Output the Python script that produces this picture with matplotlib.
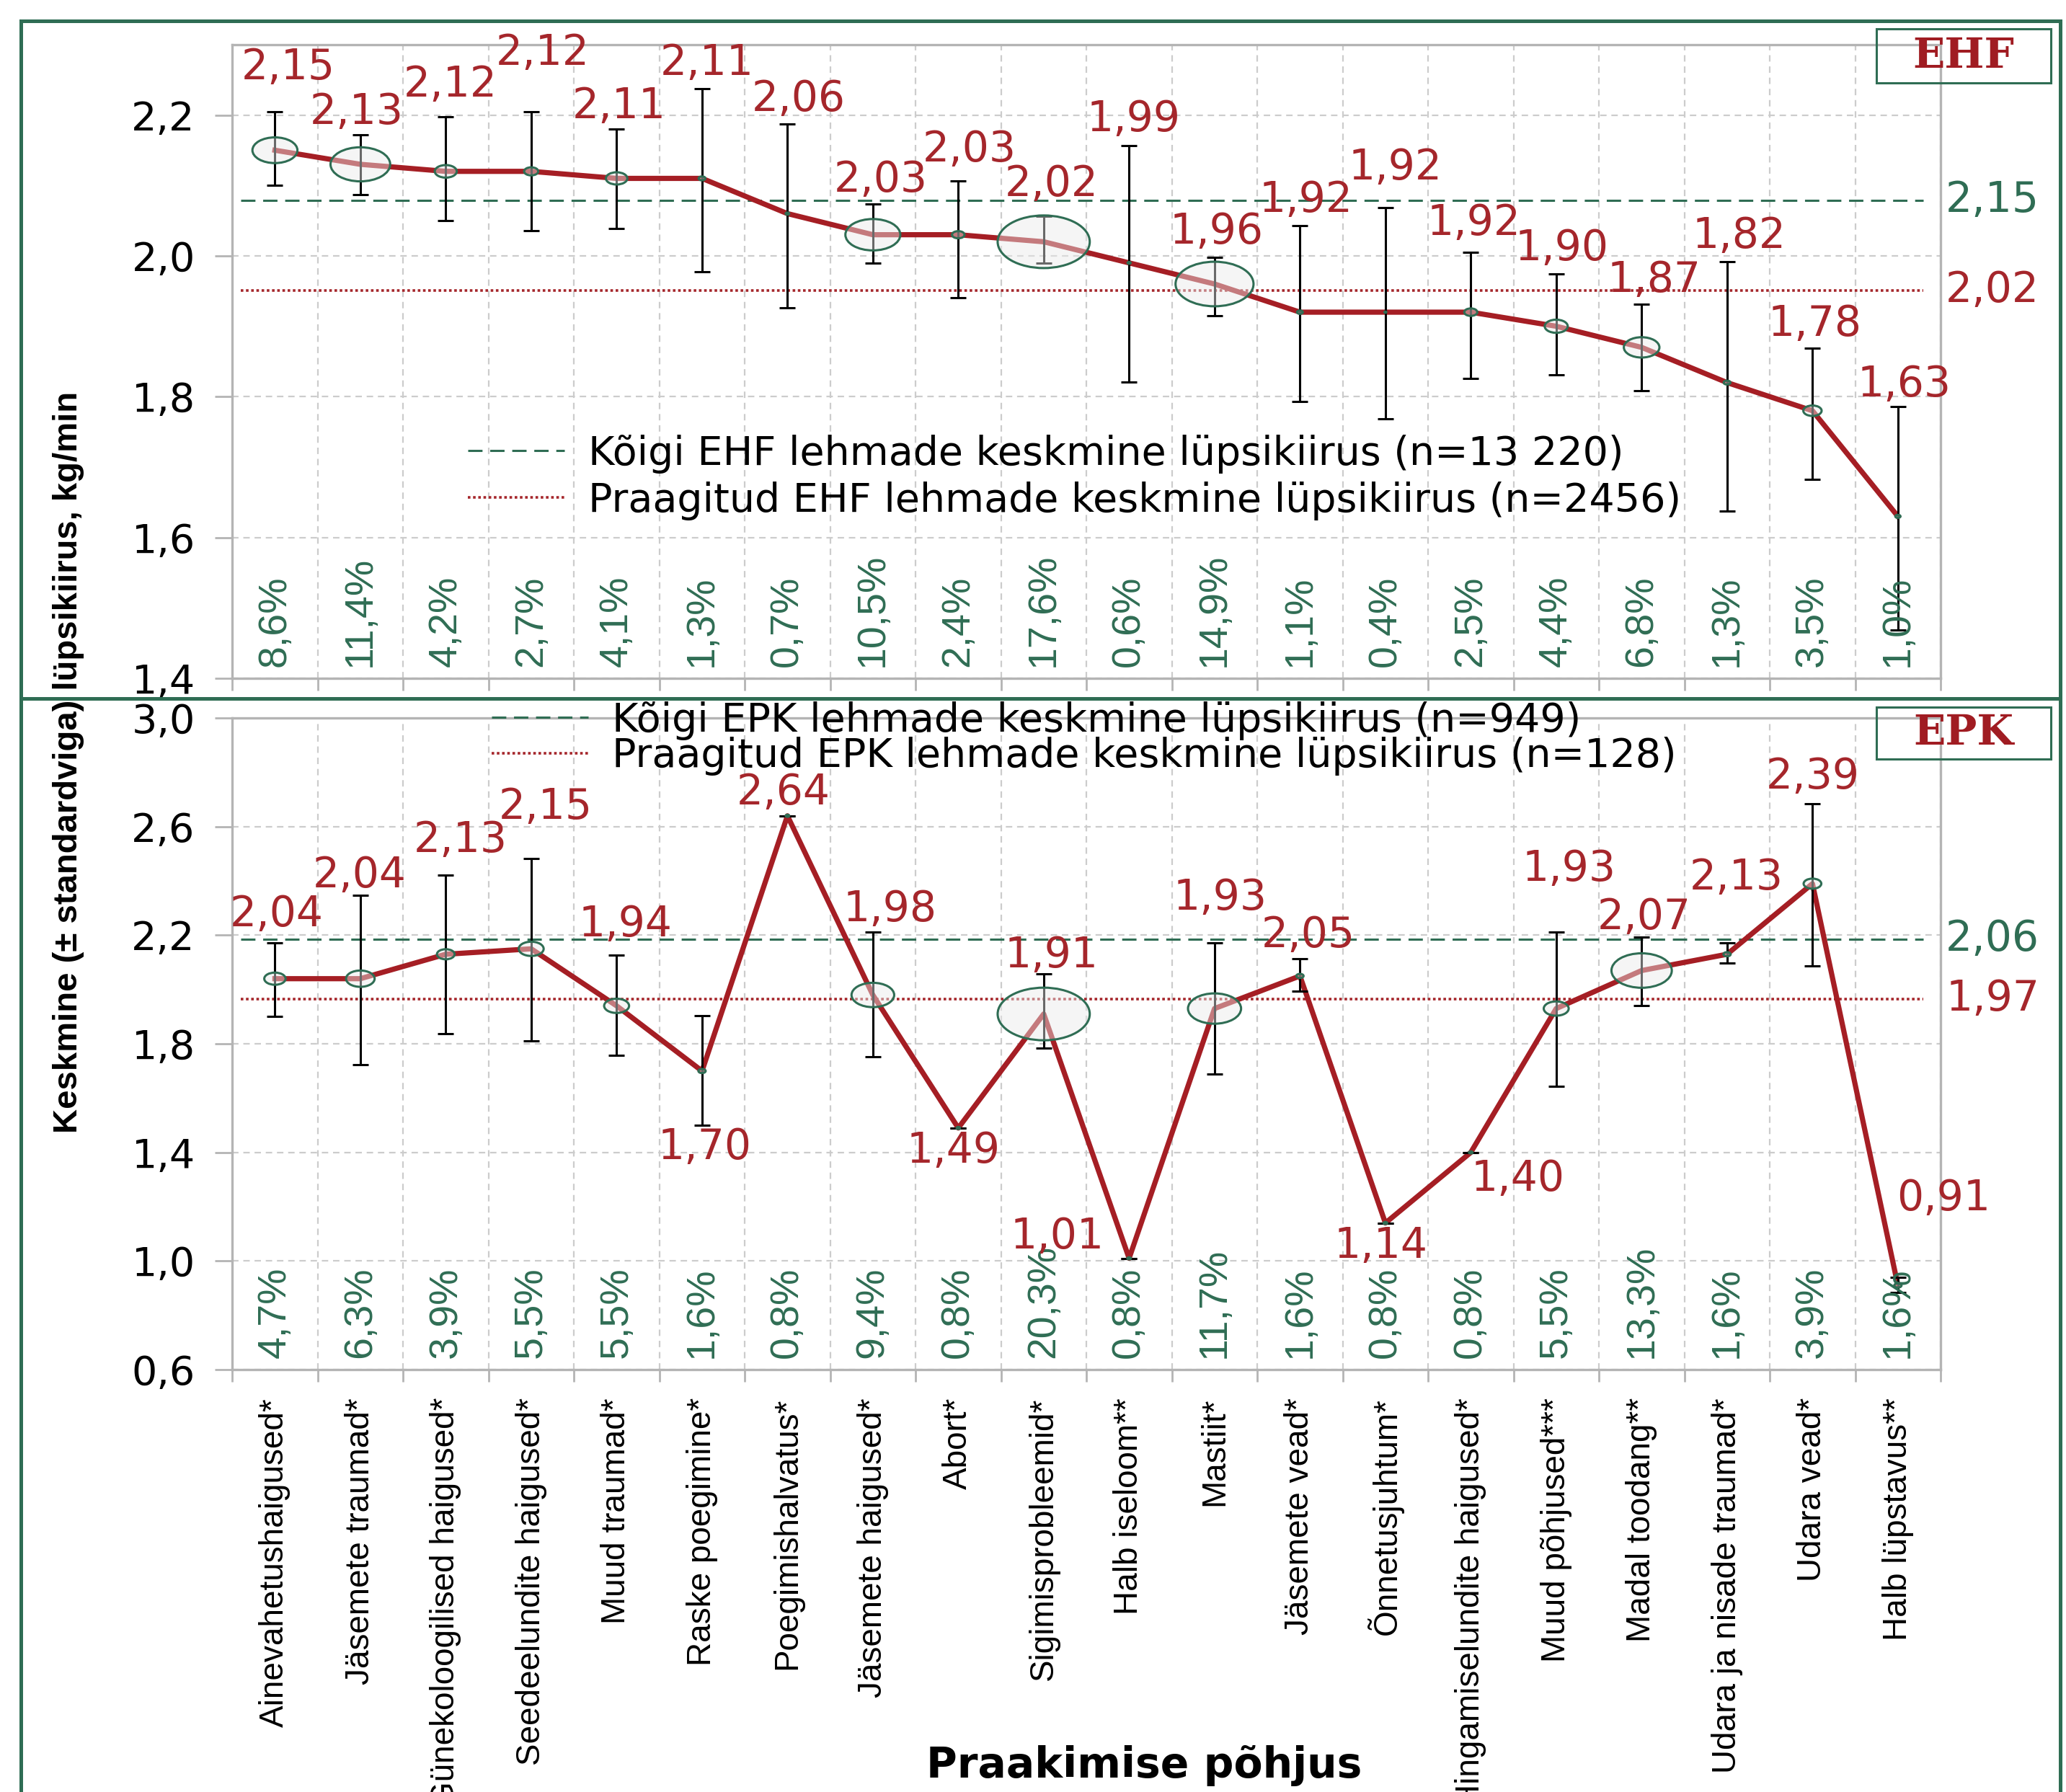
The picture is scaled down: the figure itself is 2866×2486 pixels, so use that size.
import numpy as np
import matplotlib
matplotlib.use("Agg")
import matplotlib.pyplot as plt
from matplotlib.path import Path
from matplotlib.transforms import Affine2D
from matplotlib.patches import Rectangle
from matplotlib.lines import Line2D
from matplotlib.ticker import FuncFormatter

# === DATA ===
categories = [
    "Ainevahetushaigused*", "Jäsemete traumad*", "Günekoloogilised haigused*",
    "Seedeelundite haigused*", "Muud traumad*", "Raske poegimine*",
    "Poegimishalvatus*", "Jäsemete haigused*", "Abort*", "Sigimisprobleemid*",
    "Halb iseloom**", "Mastiit*", "Jäsemete vead*", "Õnnetusjuhtum*",
    "Hingamiselundite haigused*", "Muud põhjused***", "Madal toodang**",
    "Udara ja nisade traumad*", "Udara vead*", "Halb lüpstavus**",
]

# EHF (top panel)
ehf_mean = [2.15, 2.13, 2.12, 2.12, 2.11, 2.11, 2.06, 2.03, 2.03, 2.02,
            1.99, 1.96, 1.92, 1.92, 1.92, 1.90, 1.87, 1.82, 1.78, 1.63]
ehf_lo = [2.100, 2.087, 2.050, 2.036, 2.039, 1.977, 1.926, 1.990, 1.941, 1.990,
          1.821, 1.915, 1.793, 1.769, 1.826, 1.831, 1.808, 1.637, 1.683, 1.469]
ehf_hi = [2.205, 2.172, 2.198, 2.205, 2.180, 2.237, 2.187, 2.074, 2.106, 2.056,
          2.157, 1.998, 2.043, 2.069, 2.005, 1.974, 1.931, 1.992, 1.869, 1.786]
ehf_pct = [8.6, 11.4, 4.2, 2.7, 4.1, 1.3, 0.7, 10.5, 2.4, 17.6,
           0.6, 14.9, 1.1, 0.4, 2.5, 4.4, 6.8, 1.3, 3.5, 1.0]
ehf_ref = [2.079, 1.951]
ehf_ref_text = ["2,15", "2,02"]
ehf_legend = ["Kõigi EHF lehmade keskmine lüpsikiirus (n=13 220)",
              "Praagitud EHF lehmade keskmine lüpsikiirus (n=2456)"]

# EPK (bottom panel)
epk_mean = [2.04, 2.04, 2.13, 2.15, 1.94, 1.70, 2.64, 1.98, 1.49, 1.91,
            1.01, 1.93, 2.05, 1.14, 1.40, 1.93, 2.07, 2.13, 2.39, 0.91]
epk_lo = [1.902, 1.724, 1.837, 1.812, 1.758, 1.500, 2.640, 1.753, 1.490, 1.783,
          1.010, 1.690, 1.995, 1.140, 1.400, 1.644, 1.941, 2.097, 2.088, 0.885]
epk_hi = [2.173, 2.346, 2.422, 2.483, 2.127, 1.905, 2.640, 2.212, 1.490, 2.058,
          1.010, 2.173, 2.114, 1.140, 1.400, 2.212, 2.193, 2.173, 2.685, 0.941]
epk_pct = [4.7, 6.3, 3.9, 5.5, 5.5, 1.6, 0.8, 9.4, 0.8, 20.3,
           0.8, 11.7, 1.6, 0.8, 0.8, 5.5, 13.3, 1.6, 3.9, 1.6]
epk_ref = [2.186, 1.966]
epk_ref_text = ["2,06", "1,97"]
epk_legend = ["Kõigi EPK lehmade keskmine lüpsikiirus (n=949)",
              "Praagitud EPK lehmade keskmine lüpsikiirus (n=128)"]

# label offsets from the point, in output pixels (dx right, dy down)
ehf_label_off = [(18, -115), (-5, -72), (6, -120), (16, -164), (3, -100),
                 (7, -160), (15, -159), (11, -76), (15, -118), (11, -80),
                 (6, -199), (3, -72), (8, -156), (14, -201), (4, -124),
                 (8, -108), (17, -93), (17, -203), (3, -120), (9, -183)]
epk_label_off = [(2, -89), (-1, -143), (20, -158), (20, -197), (12, -113),
                 (4, 106), (-6, -32), (24, -119), (-7, 32), (11, -81),
                 (-100, -30), (8, -154), (11, -56), (-6, 32), (65, 37),
                 (18, -194), (3, -74), (13, -106), (0, -148), (63, -121)]

# === STYLE ===
DPI = 200
GREEN = "#2f6d54"
RED = "#a5262b"
LINE_RED = "#a51e24"
GRID = "#cccccc"
SPINE = "#b4b4b4"
WIDE = ["DejaVu Sans"]
NARROW = ["Liberation Sans Narrow", "Liberation Sans", "DejaVu Sans"]
PX = 72 / DPI

plt.rcParams["font.family"] = WIDE

ellipse = Path.unit_circle().transformed(Affine2D().scale(1.75, 1.0))


def comma(v, nd):
    return f"{v:.{nd}f}".replace(".", ",")


def draw_panel(ax, mean, lo, hi, pct, ylim, yticks, ref, ref_text, legend,
               offsets, leg_anchor, leg_spacing):
    x = np.arange(len(categories))
    mean = np.array(mean)
    ax.set_xlim(-0.5, len(categories) - 0.5)
    ax.set_ylim(*ylim)
    ax.set_yticks(yticks)
    ax.yaxis.set_major_formatter(FuncFormatter(lambda v, _: comma(v, 1)))
    ax.set_xticks(np.arange(-0.5, len(categories)))
    ax.set_xticklabels([])
    ax.grid(True, linestyle=(0, (4, 3)), color=GRID, linewidth=0.8)
    ax.set_axisbelow(True)
    for s in ax.spines.values():
        s.set_color(SPINE)
        s.set_linewidth(1.2)
    ax.tick_params(axis="y", direction="out", length=8.5, width=1.0,
                   color=SPINE, pad=10, labelsize=20)
    ax.tick_params(axis="x", which="major", direction="out", length=6,
                   width=1.0, color=SPINE)

    # reference lines
    ax.axhline(ref[0], xmin=0.005, xmax=0.99, color=GREEN, ls=(0, (6.5, 3.5)),
               lw=1.1, label=legend[0], zorder=2)
    ax.axhline(ref[1], xmin=0.005, xmax=0.99, color=RED, ls=(0, (1, 1)),
               lw=1.3, label=legend[1], zorder=2)
    for lvl, txt, c in zip(ref, ref_text, [GREEN, RED]):
        ax.text(1.003, lvl, txt, transform=ax.get_yaxis_transform(),
                ha="left", va="center", color=c, fontsize=21)

    ax.plot(x, mean, color=LINE_RED, lw=2.6, zorder=3, solid_joinstyle="round")
    yerr = [np.maximum(mean - np.array(lo), 0), np.maximum(np.array(hi) - mean, 0)]
    ax.errorbar(x, mean, yerr=yerr, fmt="none", ecolor="black", elinewidth=1.1,
                capsize=4, capthick=1.1, zorder=4)

    p = np.array(pct)
    sizes = (46 * p / p.max()) ** 2
    ax.scatter(x, mean, s=sizes, marker=ellipse, facecolor=(0.92, 0.92, 0.92, 0.45),
               edgecolor=GREEN, linewidth=1.1, zorder=5)

    for xi, pv in zip(x, pct):
        ax.text(xi, 0.018, comma(pv, 1) + "%", transform=ax.get_xaxis_transform(),
                rotation=90, ha="center", va="bottom", color=GREEN,
                fontsize=20, fontfamily=NARROW, zorder=6)

    for xi, m, (dx, dy) in zip(x, mean, offsets):
        ax.annotate(comma(m, 2), (xi, m), xytext=(dx * PX, -dy * PX),
                    textcoords="offset points", ha="center", va="center",
                    color=RED, fontsize=21, zorder=7)

    ax.legend(loc="upper left", bbox_to_anchor=leg_anchor, frameon=False,
              fontsize=20, handlelength=2.4, handletextpad=0.6,
              labelspacing=leg_spacing, borderpad=0, borderaxespad=0)


fig = plt.figure(figsize=(2866 / DPI, 2486 / DPI), dpi=DPI)
ax1 = fig.add_axes([0.1124, 0.6215, 0.8269, 0.3536])
ax2 = fig.add_axes([0.1124, 0.2357, 0.8269, 0.3636])

draw_panel(ax1, ehf_mean, ehf_lo, ehf_hi, ehf_pct, (1.4, 2.3),
           [1.4, 1.6, 1.8, 2.0, 2.2], ehf_ref, ehf_ref_text, ehf_legend,
           ehf_label_off, (0.138, 0.385), 0.2)
draw_panel(ax2, epk_mean, epk_lo, epk_hi, epk_pct, (0.6, 3.0),
           [0.6, 1.0, 1.4, 1.8, 2.2, 2.6, 3.0], epk_ref, epk_ref_text, epk_legend,
           epk_label_off, (0.152, 1.026), -0.08)

# category labels under the bottom panel
xc = np.arange(len(categories))
ax2.set_xticks(xc, minor=True)
ax2.set_xticklabels(categories, minor=True, rotation=90, fontsize=16.5,
                    fontfamily=NARROW)
ax2.tick_params(axis="x", which="minor", length=0, pad=14)

fig.text(0.0331, 0.5748, "Keskmine (± standardviga) lüpsikiirus, kg/min",
         rotation=90, ha="center", va="center", fontsize=17,
         fontweight="bold", fontfamily=NARROW)
fig.text(0.5537, 0.0145, "Praakimise põhjus", ha="center", va="center",
         fontsize=21, fontweight="bold")

# outer frame and separator
fig.add_artist(Rectangle((0.0101, -0.05), 0.9871, 1.0383, transform=fig.transFigure,
                         fill=False, edgecolor=GREEN, linewidth=1.8))
fig.add_artist(Line2D([0.0101, 0.9972], [0.6102, 0.6102], transform=fig.transFigure,
                      color=GREEN, lw=1.8))

# breed boxes
for y0, y1, txt in [(0.9537, 0.9839, "EHF"), (0.5764, 0.6054, "EPK")]:
    fig.add_artist(Rectangle((0.9082, y0), 0.0845, y1 - y0, transform=fig.transFigure,
                             fill=False, edgecolor=GREEN, lw=1.1, zorder=10))
    fig.text(0.9505, (y0 + y1) / 2, txt, ha="center", va="center", fontsize=21,
             fontweight="bold", fontfamily="DejaVu Serif", color="#a01c22", zorder=11)

fig.savefig("out.png", dpi=DPI)
